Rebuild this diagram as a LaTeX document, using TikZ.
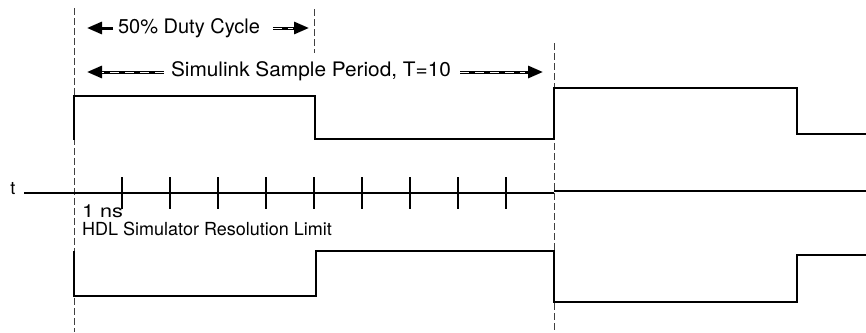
\documentclass[tikz,border=0pt]{standalone}
\usepackage{fontspec}
\setmainfont{TeX Gyre Heros}
\usetikzlibrary{arrows.meta}
\begin{document}
\begin{tikzpicture}[x=1pt,y=-1pt,
  wave/.style={line width=1.7pt,line join=miter},
  guide/.style={line width=0.8pt,draw=black!75,dash pattern=on 7pt off 3pt},
  axis/.style={line width=1.6pt},
  tick/.style={line width=1.6pt},
  lbl/.style={inner sep=0pt,font=\fontsize{18}{20}\selectfont},
  toplbl/.style={inner sep=0pt,font=\fontsize{20}{22}\selectfont},
  arrblack/.style={line width=3pt,-{Triangle[length=15pt,width=12pt]}},
  arrwhite/.style={line width=0.7pt,white,dash pattern=on 9pt off 6pt},
]
\useasboundingbox (0,0) rectangle (866,332);
% guide lines
\draw[guide] (74,8) -- (74,332);
\draw[guide] (314,9) -- (314,53);
\draw[guide] (554,43) -- (554,332);
% top waveform
\draw[wave] (74,140) -- (74,96) -- (315,96) -- (315,139) -- (554,139) -- (554,88) -- (797,88) -- (797,134) -- (866,134);
% bottom waveform
\draw[wave] (74,251) -- (74,296) -- (316,296) -- (316,251) -- (554,251) -- (554,302) -- (797,302) -- (797,255) -- (866,255);
% time axis
\node[lbl] (t) at (13,189) {t};
\coordinate (axL) at (24,193);
\coordinate (axM) at (554,193);
\coordinate (axM2) at (554,191);
\coordinate (axR) at (866,191);
\draw[axis] (axL) -- (axM);
\draw[axis] (axM2) -- (axR);
\foreach \i in {1,...,9} {
  \draw[tick] ({74+48*\i},177) -- ({74+48*\i},209);
}
\node[lbl,anchor=west] (ns) at (82,211) {\scalebox{1.2}[1]{1 ns}};
\node[lbl,anchor=west] (hdl) at (82,229) {HDL Simulator Resolution Limit};
% duty cycle
\node[toplbl] (duty) at (189,28) {50\% Duty Cycle};
\coordinate (dL) at (87,28);
\coordinate (dR) at (309,28);
\coordinate (dLs) at (113,28);
\coordinate (dRs) at (273,28);
\draw[arrblack] (dLs) -- (dL);
\draw[arrblack] (dRs) -- (dR);
\draw[arrwhite] (dRs) -- ++(20,0);
% sample period
\node[toplbl] (per) at (311,71) {\scalebox{1.04}[1]{Simulink Sample Period, T=10}};
\coordinate (pL) at (87,72);
\coordinate (pR) at (543,72);
\coordinate (pLs) at (164,72);
\coordinate (pRs) at (460,72);
\draw[arrblack] (pLs) -- (pL);
\draw[arrblack] (pRs) -- (pR);
\draw[arrwhite] (pLs) -- (102,72);
\draw[arrwhite] (pRs) -- (525,72);
\end{tikzpicture}
\end{document}
